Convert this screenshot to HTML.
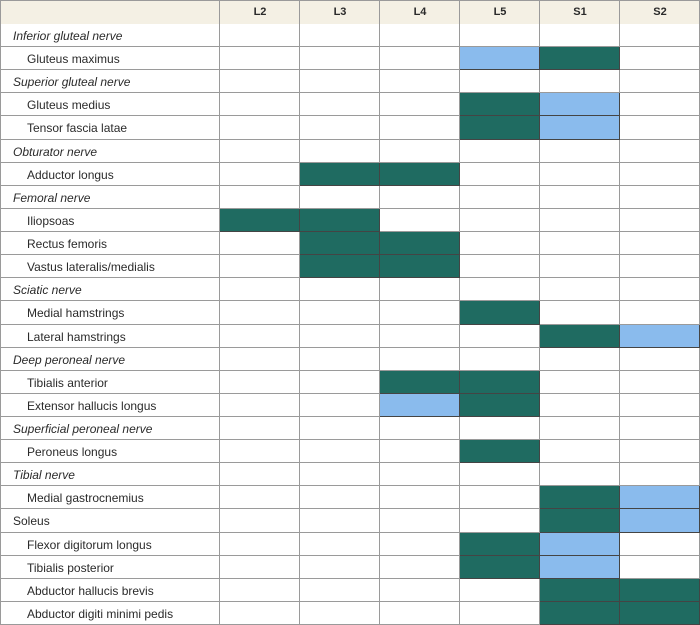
<!DOCTYPE html>
<html><head><meta charset="utf-8"><style>
html,body{margin:0;padding:0;background:#fff;}
#c{position:relative;width:700px;height:625px;overflow:hidden;font-family:"Liberation Sans","DejaVu Sans",sans-serif;font-size:12px;color:#2a2a2a;}
.cell{position:absolute;box-sizing:border-box;border-right:1px solid #9a9a9a;border-bottom:1px solid #9a9a9a;}
.t{position:absolute;white-space:nowrap;}
</style></head><body><div id="c"></div>
<script>
const c=document.getElementById('c');
const xs=[0,220,300,380,460,540,620,700];
const G='#1f6b61',B='#8abbed';
const rows=[
["Inferior gluteal nerve",1,{}],["Gluteus maximus",0,{4:B,5:G}],
["Superior gluteal nerve",1,{}],["Gluteus medius",0,{4:G,5:B}],["Tensor fascia latae",0,{4:G,5:B}],
["Obturator nerve",1,{}],["Adductor longus",0,{2:G,3:G}],
["Femoral nerve",1,{}],["Iliopsoas",0,{1:G,2:G}],["Rectus femoris",0,{2:G,3:G}],["Vastus lateralis/medialis",0,{2:G,3:G}],
["Sciatic nerve",1,{}],["Medial hamstrings",0,{4:G}],["Lateral hamstrings",0,{5:G,6:B}],
["Deep peroneal nerve",1,{}],["Tibialis anterior",0,{3:G,4:G}],["Extensor hallucis longus",0,{3:B,4:G}],
["Superficial peroneal nerve",1,{}],["Peroneus longus",0,{4:G}],
["Tibial nerve",1,{}],["Medial gastrocnemius",0,{5:G,6:B}],["Soleus",2,{5:G,6:B}],
["Flexor digitorum longus",0,{4:G,5:B}],["Tibialis posterior",0,{4:G,5:B}],
["Abductor hallucis brevis",0,{5:G,6:G}],["Abductor digiti minimi pedis",0,{5:G,6:G}]];
let h='';
const hdr=["","L2","L3","L4","L5","S1","S2"];
for(let j=0;j<7;j++){h+=`<div class="cell" style="left:${xs[j]}px;top:0;width:${xs[j+1]-xs[j]}px;height:25px;background:#f4f0e4;border-top:1px solid #9a9a9a;${j==0?'border-left:1px solid #9a9a9a;':''}"></div>`;
if(j)h+=`<div class="t" style="left:${xs[j]}px;width:80px;text-align:center;top:6px;font-weight:bold;font-size:11px">${hdr[j]}</div>`;}
const rh=(625-24)/26;
rows.forEach((r,i)=>{const y=Math.round(24+i*rh),y2=Math.round(24+(i+1)*rh);
for(let j=0;j<7;j++){const bg=r[2][j]||'#fff';h+=`<div class="cell" style="left:${xs[j]}px;top:${y}px;width:${xs[j+1]-xs[j]}px;height:${y2-y}px;background:${bg};${j==0?'border-left:1px solid #9a9a9a;':''}${bg!='#fff'?'border-color:#444;':''}"></div>`;}
const ind=r[1]==0?27:13;
h+=`<div class="t" style="left:${ind}px;top:${y+5}px;${r[1]==1?'font-style:italic;':''}">${r[0]}</div>`;});
c.innerHTML=h;
</script></body></html>
